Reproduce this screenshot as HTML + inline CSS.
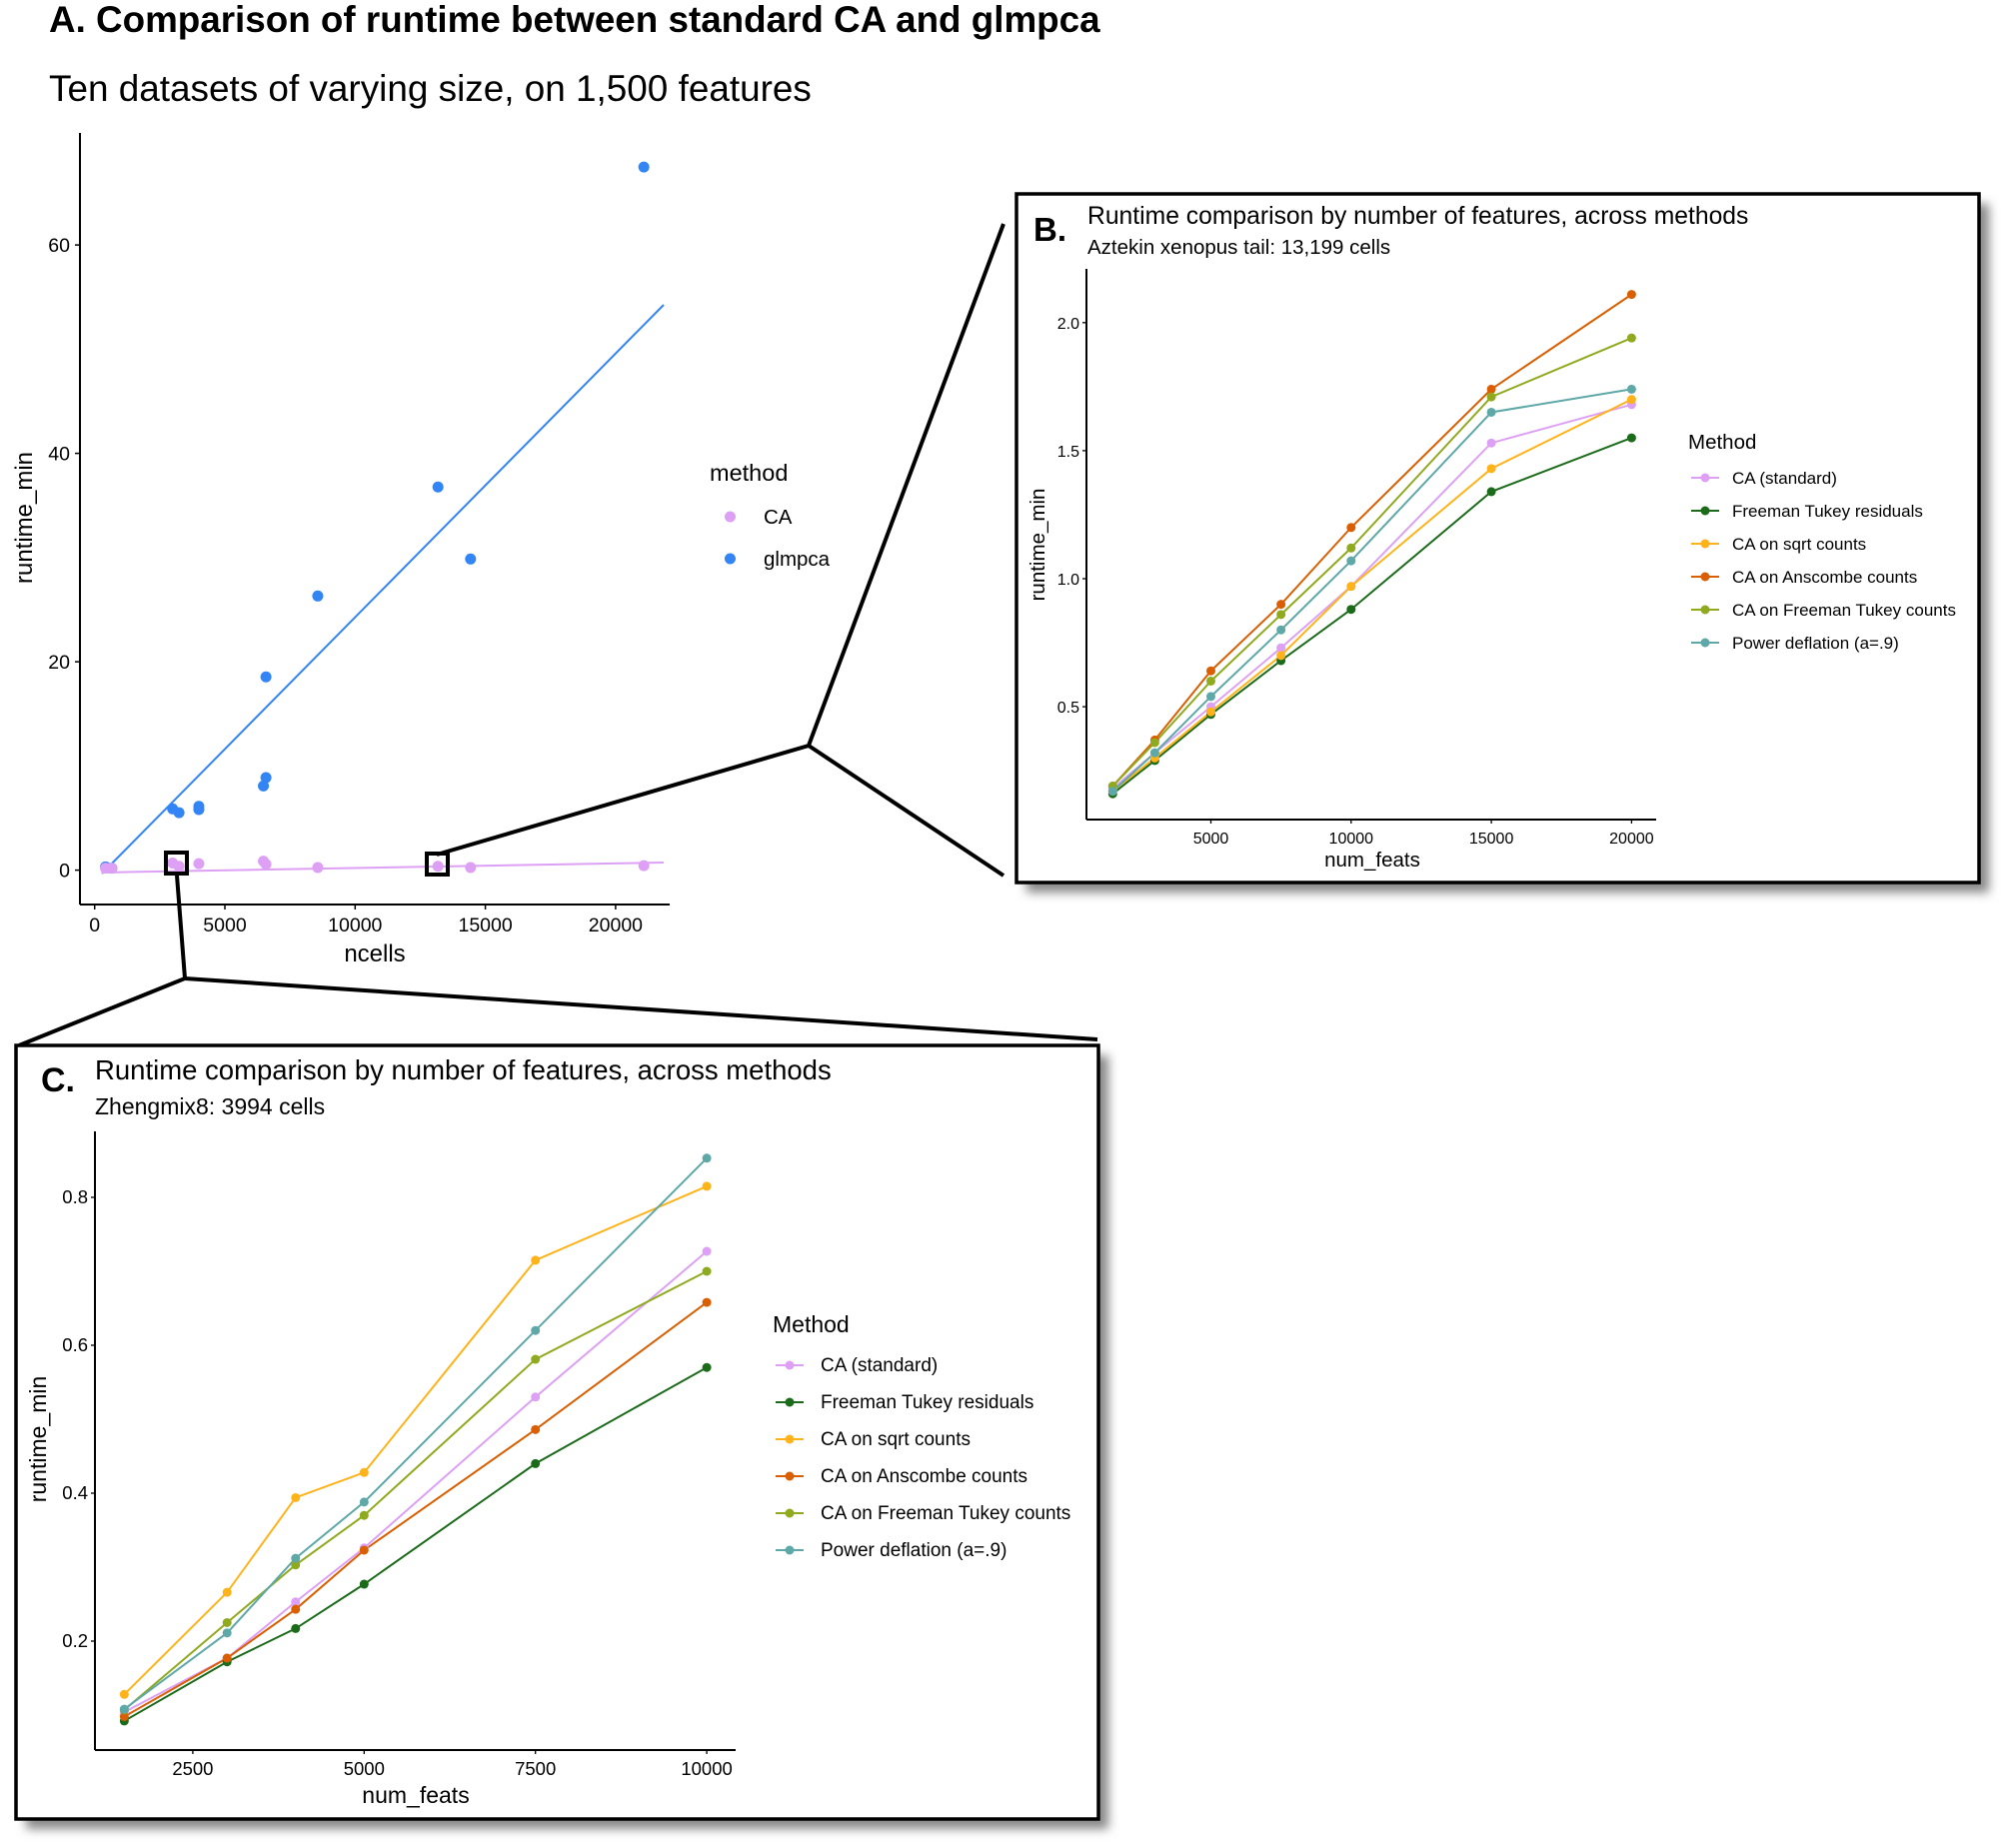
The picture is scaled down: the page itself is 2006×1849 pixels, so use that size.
<!DOCTYPE html>
<html><head><meta charset="utf-8"><style>
html,body{margin:0;padding:0;background:#fff;}
svg{display:block;font-family:"Liberation Sans",sans-serif;}
</style></head><body>
<svg id="s" width="2006" height="1849" viewBox="0 0 2006 1849" xmlns="http://www.w3.org/2000/svg">
<defs>
<filter id="sh" x="-5%" y="-5%" width="115%" height="115%"><feGaussianBlur stdDeviation="5"/></filter>
</defs>
<rect width="2006" height="1849" fill="#fff"/>
<text x="49" y="32" font-size="36.8" font-weight="bold">A. Comparison of runtime between standard CA and glmpca</text>
<text x="49" y="101" font-size="36.9">Ten datasets of varying size, on 1,500 features</text>
<g id="A"></g>
<g stroke="#000" stroke-width="4" fill="none">
<polyline points="437,855 809,746 1004,224"/>
<line x1="809" y1="746" x2="1004" y2="876"/>
<polyline points="177,876 185,979 19,1046"/>
<line x1="185" y1="979" x2="1098" y2="1040"/>
<rect x="166" y="853" width="21" height="21" stroke-width="4"/>
<rect x="427" y="854" width="21" height="21" stroke-width="4"/>
</g>
<rect x="1027" y="204" width="963" height="689" fill="#888" filter="url(#sh)"/>
<rect x="1017" y="194" width="963" height="689" fill="#fff" stroke="#000" stroke-width="3.5"/>
<text x="1034" y="241" font-size="33" font-weight="bold">B.</text>
<text x="1088" y="224" font-size="24.7">Runtime comparison by number of features, across methods</text>
<text x="1088" y="254" font-size="20.5">Aztekin xenopus tail: 13,199 cells</text>
<g id="B"></g>
<rect x="26" y="1056" width="1083" height="774" fill="#888" filter="url(#sh)"/>
<rect x="16" y="1046" width="1083" height="774" fill="#fff" stroke="#000" stroke-width="3.5"/>
<text x="41" y="1092" font-size="34" font-weight="bold">C.</text>
<text x="95" y="1080" font-size="27.5">Runtime comparison by number of features, across methods</text>
<text x="95" y="1115" font-size="23">Zhengmix8: 3994 cells</text>
<g id="C"></g>
</svg>
<script>
var NS="http://www.w3.org/2000/svg";
function el(p,t,a,txt){var e=document.createElementNS(NS,t);for(var k in a)e.setAttribute(k,a[k]);if(txt!==undefined)e.textContent=txt;p.appendChild(e);return e;}
var A=document.getElementById("A");
var ax=function(n){return 94.7+n*0.02606;}, ay=function(v){return 870.6-v*10.425;};
el(A,"line",{x1:80,y1:133,x2:80,y2:905,stroke:"#000","stroke-width":2});
el(A,"line",{x1:80,y1:905,x2:670,y2:905,stroke:"#000","stroke-width":2});
[0,20,40,60].forEach(function(v){var y=ay(v);el(A,"line",{x1:75,y1:y,x2:80,y2:y,stroke:"#000","stroke-width":1.5});el(A,"text",{x:70,y:y+7,"font-size":19.5,"text-anchor":"end"},v);});
[0,5000,10000,15000,20000].forEach(function(v){var x=ax(v);el(A,"line",{x1:x,y1:905,x2:x,y2:910,stroke:"#000","stroke-width":1.5});el(A,"text",{x:x,y:932,"font-size":19.5,"text-anchor":"middle"},v);});
el(A,"text",{x:375,y:962,"font-size":24,"text-anchor":"middle"},"ncells");
el(A,"text",{x:0,y:0,"font-size":24,"text-anchor":"middle",transform:"translate(32,518) rotate(-90)"},"runtime_min");
var blue="#3384F5",pink="#DDA0F5";
el(A,"line",{x1:102,y1:874,x2:664,y2:305,stroke:blue,"stroke-width":2});
el(A,"line",{x1:102,y1:873,x2:664,y2:863,stroke:pink,"stroke-width":2});
var gl=[[1007,262],[685,764],[736,877],[497,935],[416,1062],[416,1220],[412,1233],[270,1269],[280,1275],[311,1265],[311,1270],[165,1360],[175,1362]];
var ca=[[165,1362],[175,1362],[270,1354],[280,1359],[311,1355],[412,1351],[416,1356],[497,1361],[685,1359],[736,1361],[1007,1358]];
gl.forEach(function(p){el(A,"circle",{cx:p[0]/1.5633,cy:p[1]/1.568,r:5.5,fill:blue});});
ca.forEach(function(p){el(A,"circle",{cx:p[0]/1.5633,cy:p[1]/1.568,r:5.5,fill:pink});});
el(A,"text",{x:710,y:481,"font-size":23.5},"method");
el(A,"circle",{cx:730.5,cy:517,r:5.5,fill:pink});el(A,"text",{x:764,y:524,"font-size":20.5},"CA");
el(A,"circle",{cx:730.5,cy:559,r:5.5,fill:blue});el(A,"text",{x:764,y:566,"font-size":20.5},"glmpca");

var cols=["#DDA0F5","#1B6B1B","#FFB31A","#D95F02","#8FAA1F","#5FA8A8"];
var names=["CA (standard)","Freeman Tukey residuals","CA on sqrt counts","CA on Anscombe counts","CA on Freeman Tukey counts","Power deflation (a=.9)"];
function panel(g,o){
 el(g,"line",{x1:o.x0,y1:o.yt,x2:o.x0,y2:o.yb,stroke:"#000","stroke-width":2});
 el(g,"line",{x1:o.x0,y1:o.yb,x2:o.xr,y2:o.yb,stroke:"#000","stroke-width":2});
 o.yticks.forEach(function(v){var y=o.fy(v);el(g,"line",{x1:o.x0-4,y1:y,x2:o.x0,y2:y,stroke:"#000","stroke-width":1.3});el(g,"text",{x:o.x0-7,y:y+6,"font-size":o.tf,"text-anchor":"end"},v.toFixed(1));});
 o.xticks.forEach(function(v){var x=o.fx(v);el(g,"line",{x1:x,y1:o.yb,x2:x,y2:o.yb+4,stroke:"#000","stroke-width":1.3});el(g,"text",{x:x,y:o.xlb,"font-size":o.tf,"text-anchor":"middle"},v);});
 el(g,"text",{x:o.xlc,y:o.xly,"font-size":o.af,"text-anchor":"middle"},"num_feats");
 el(g,"text",{x:0,y:0,"font-size":o.af,"text-anchor":"middle",transform:"translate("+o.ylx+","+o.yly+") rotate(-90)"},"runtime_min");
 o.data.forEach(function(d,i){var pts=d.map(function(v,j){return o.fx(o.xs[j])+","+o.fy(v);}).join(" ");
  el(g,"polyline",{points:pts,fill:"none",stroke:cols[i],"stroke-width":2});});
 o.data.forEach(function(d,i){d.forEach(function(v,j){el(g,"circle",{cx:o.fx(o.xs[j]),cy:o.fy(v),r:4.5,fill:cols[i]});});});
 el(g,"text",{x:o.lx,y:o.lt,"font-size":o.af},"Method");
 o.ly.forEach(function(y,i){el(g,"line",{x1:o.lk,y1:y,x2:o.lk+28,y2:y,stroke:cols[i],"stroke-width":2});el(g,"circle",{cx:o.lk+14,cy:y,r:4.5,fill:cols[i]});el(g,"text",{x:o.ltx,y:y+6,"font-size":o.lf},names[i]);});
}
panel(document.getElementById("B"),{x0:1087,yt:269,yb:820,xr:1657,tf:16,af:20.5,lf:17,
 fx:function(n){return 1211.5+(n-5000)*0.02806;},fy:function(v){return 579-(v-1)*256.2;},
 yticks:[0.5,1.0,1.5,2.0],xticks:[5000,10000,15000,20000],xlb:844,xlc:1373,xly:867,ylx:1045,yly:545,
 xs:[1500,3000,5000,7500,10000,15000,20000],
 data:[[0.18,0.32,0.50,0.73,0.97,1.53,1.68],[0.16,0.29,0.47,0.68,0.88,1.34,1.55],[0.17,0.30,0.48,0.70,0.97,1.43,1.70],[0.19,0.37,0.64,0.90,1.20,1.74,2.11],[0.19,0.36,0.60,0.86,1.12,1.71,1.94],[0.17,0.32,0.54,0.80,1.07,1.65,1.74]],
 lx:1689,lt:449,ly:[478,511,544,577,610,643],lk:1692,ltx:1733});
panel(document.getElementById("C"),{x0:95,yt:1132,yb:1751,xr:736,tf:18.5,af:23,lf:19,
 fx:function(n){return 192.9+(n-2500)*0.06856;},fy:function(v){return 1642-(v-0.2)*740;},
 yticks:[0.2,0.4,0.6,0.8],xticks:[2500,5000,7500,10000],xlb:1776,xlc:416,xly:1804,ylx:46,yly:1440,
 xs:[1500,3000,4000,5000,7500,10000],
 data:[[0.104,0.177,0.253,0.326,0.53,0.727],[0.092,0.172,0.217,0.277,0.44,0.57],[0.128,0.266,0.394,0.428,0.715,0.815],[0.098,0.177,0.243,0.323,0.486,0.658],[0.107,0.225,0.303,0.370,0.581,0.700],[0.108,0.211,0.312,0.388,0.620,0.853]],
 lx:773,lt:1333,ly:[1366,1403,1440,1477,1514,1551],lk:776,ltx:821});
</script>
</body></html>
